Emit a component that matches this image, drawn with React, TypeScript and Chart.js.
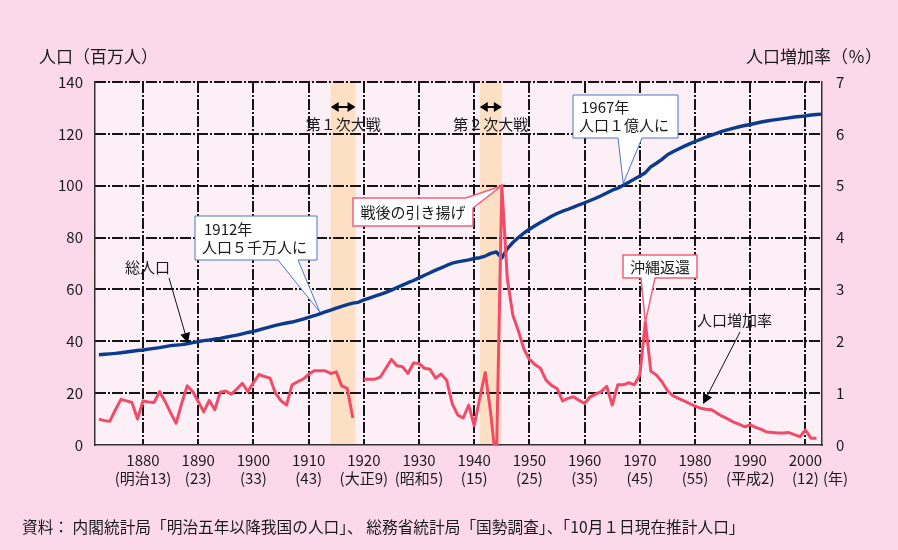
import React, { useEffect, useRef } from 'react';
import { Chart, registerables } from 'chart.js';

Chart.register(...registerables);

const FONT = '"Noto Sans CJK JP", "Noto Sans", sans-serif';

// 総人口（百万人）, 1872..2003
const POP_START_YEAR = 1872;
const POPULATION = [
  34.81, 34.99, 35.15, 35.32, 35.56, 35.87, 36.17, 36.46,
  36.65, 36.97, 37.26, 37.57, 37.96, 38.31, 38.54, 38.70, 39.03, 39.47,
  39.90, 40.25, 40.51, 40.86, 41.14, 41.56, 41.99, 42.40, 42.89, 43.40,
  43.85, 44.36, 44.96, 45.55, 46.14, 46.62, 47.04, 47.42, 47.97, 48.55,
  49.18, 49.85, 50.58, 51.31, 52.04, 52.75, 53.50, 54.13, 54.74, 55.03,
  55.96, 56.67, 57.39, 58.12, 58.88, 59.74, 60.74, 61.66, 62.60, 63.46,
  64.45, 65.46, 66.43, 67.43, 68.31, 69.25, 70.11, 70.63, 71.01, 71.38,
  71.93, 72.22, 72.88, 73.90, 74.43, 72.15, 75.75, 78.10, 80.00, 81.77,
  83.20, 84.54, 85.81, 86.98, 88.24, 89.28, 90.17, 90.93, 91.77, 92.64,
  93.42, 94.29, 95.18, 96.16, 97.18, 98.28, 99.05, 100.20, 101.33, 102.54,
  103.72, 105.01, 107.33, 108.66, 110.16, 111.94, 113.09, 114.15, 115.17, 116.13,
  117.06, 117.90, 118.73, 119.54, 120.31, 121.05, 121.66, 122.24, 122.75, 123.21,
  123.61, 124.10, 124.57, 124.94, 125.27, 125.57, 125.86, 126.17, 126.49, 126.69,
  126.93, 127.29, 127.44, 127.62,
];

// 人口増加率（%）, 1872..2002 (null = no data)
const RATE_START_YEAR = 1872;
const GROWTH_RATE: (number | null)[] = [
  0.50, 0.47, 0.46, 0.68, 0.88, 0.85, 0.82, 0.50,
  0.85, 0.83, 0.82, 1.03, 0.84, 0.62, 0.42, 0.80, 1.14, 1.03,
  0.84, 0.64, 0.86, 0.68, 1.02, 1.04, 0.98, 1.08, 1.19, 1.03,
  1.20, 1.36, 1.32, 1.29, 1.00, 0.85, 0.77, 1.16, 1.22, 1.27,
  1.36, 1.43, 1.43, 1.43, 1.38, 1.41, 1.14, 1.09, 0.52, null,
  1.27, 1.27, 1.27, 1.31, 1.48, 1.65, 1.53, 1.51, 1.38, 1.58,
  1.57, 1.48, 1.46, 1.29, 1.37, 1.25, 0.80, 0.58, 0.52, 0.77,
  0.37, 0.90, 1.40, 0.60, -0.40, 5.00, 3.20, 2.50, 2.20, 1.85,
  1.65, 1.55, 1.48, 1.25, 1.15, 1.09, 0.85, 0.90, 0.93, 0.86,
  0.80, 0.93, 0.98, 1.03, 1.13, 0.77, 1.16, 1.16, 1.20, 1.16,
  1.35, 2.37, 1.42, 1.35, 1.22, 1.05, 0.95, 0.90, 0.85, 0.80,
  0.75, 0.71, 0.69, 0.68, 0.61, 0.55, 0.50, 0.44, 0.40, 0.35,
  0.39, 0.34, 0.30, 0.25, 0.24, 0.23, 0.23, 0.24, 0.20, 0.16,
  0.29, 0.13, 0.13,
];

const DECADE_TICKS = [1880, 1890, 1900, 1910, 1920, 1930, 1940, 1950, 1960, 1970, 1980, 1990, 2000];
const ERA_LABELS = ['(明治13)', '(23)', '(33)', '(43)', '(大正9)', '(昭和5)', '(15)', '(25)', '(35)', '(45)', '(55)', '(平成2)', '(12)'];
const POP_TICKS = [20, 40, 60, 80, 100, 120, 140];

const WAR_FROM = [1914, 1941];
const WAR_TO = [1918.5, 1945];
const WAR_LABELS = ['第１次大戦', '第２次大戦'];

const OUTER_BG = '#fcd9ea';
const PLOT_BG = '#fdeff6';
const BAND_COLOR = '#fde0c4';
const BLUE = '#0b3b8e';
const RED = '#f04b68';
const TEXT = '#1a1a1a';
const GRID = '#151515';
const DASH = [11, 2, 2, 2];

function arrowHead(ctx: CanvasRenderingContext2D, fx: number, fy: number, tx: number, ty: number, len: number, half: number) {
  const a = Math.atan2(ty - fy, tx - fx);
  const bx = tx - len * Math.cos(a);
  const by = ty - len * Math.sin(a);
  ctx.beginPath();
  ctx.moveTo(tx, ty);
  ctx.lineTo(bx + half * Math.sin(a), by - half * Math.cos(a));
  ctx.lineTo(bx - half * Math.sin(a), by + half * Math.cos(a));
  ctx.closePath();
  ctx.fill();
}

function polygon(ctx: CanvasRenderingContext2D, pts: number[][], stroke: string, width: number) {
  ctx.beginPath();
  pts.forEach((p, i) => (i === 0 ? ctx.moveTo(p[0], p[1]) : ctx.lineTo(p[0], p[1])));
  ctx.closePath();
  ctx.fillStyle = '#ffffff';
  ctx.fill();
  ctx.lineWidth = width;
  ctx.strokeStyle = stroke;
  ctx.lineJoin = 'miter';
  ctx.stroke();
}

// dash-dot line (2px thick) drawn from small rectangles
function dashLine(ctx: CanvasRenderingContext2D, x: number, y: number, length: number, vertical: boolean) {
  let pos = 0;
  let i = 0;
  while (pos < length) {
    const seg = DASH[i % DASH.length];
    if (i % 2 === 0) {
      const len = Math.min(seg, length - pos);
      if (vertical) ctx.fillRect(x - 1, y + pos, 2, len);
      else ctx.fillRect(x + pos, y - 1, len, 2);
    }
    pos += seg;
    i++;
  }
}

function drawGrid(chart: any) {
  const { ctx, chartArea: a, scales } = chart;
  ctx.save();
  ctx.fillStyle = GRID;
  const top = Math.round(a.top);
  const bottom = Math.round(a.bottom);
  const left = Math.round(a.left);
  const right = Math.round(a.right);
  DECADE_TICKS.forEach((v) => {
    const x = Math.round(scales.x.getPixelForValue(v));
    dashLine(ctx, x, top, bottom - top, true);
  });
  POP_TICKS.forEach((v) => {
    const y = Math.round(scales.y.getPixelForValue(v));
    dashLine(ctx, left, y, right - left, false);
  });
  ctx.restore();
}

const decor = {
  id: 'decor',
  beforeDraw(chart: any) {
    const { ctx, chartArea: a, scales } = chart;
    ctx.save();
    ctx.fillStyle = OUTER_BG;
    ctx.fillRect(0, 0, chart.width, chart.height);
    ctx.fillStyle = PLOT_BG;
    ctx.fillRect(a.left, a.top, a.right - a.left, a.bottom - a.top);
    ctx.fillStyle = BAND_COLOR;
    WAR_FROM.forEach((f, i) => {
      const x1 = scales.x.getPixelForValue(f);
      const x2 = scales.x.getPixelForValue(WAR_TO[i]);
      ctx.fillRect(x1, a.top, x2 - x1, a.bottom - a.top);
    });
    ctx.restore();
    drawGrid(chart);
  },
  afterDraw(chart: any) {
    const { ctx, scales } = chart;
    const xs = scales.x, ys = scales.y, ys2 = scales.y2;
    const popAt = (yr: number) => [xs.getPixelForValue(yr), ys.getPixelForValue(POPULATION[yr - POP_START_YEAR])];
    const rateAt = (yr: number) => [xs.getPixelForValue(yr), ys2.getPixelForValue(GROWTH_RATE[yr - RATE_START_YEAR] as number)];
    ctx.save();
    ctx.textBaseline = 'middle';
    ctx.fillStyle = TEXT;
    ctx.strokeStyle = TEXT;

    // war period markers
    WAR_FROM.forEach((f, i) => {
      const x1 = xs.getPixelForValue(f);
      const x2 = xs.getPixelForValue(WAR_TO[i]);
      const y = 107;
      ctx.fillStyle = '#000';
      ctx.strokeStyle = '#000';
      ctx.lineWidth = 2;
      ctx.beginPath();
      ctx.moveTo(x1 + 4, y);
      ctx.lineTo(x2 - 4, y);
      ctx.stroke();
      arrowHead(ctx, x2, y, x1, y, 8, 5);
      arrowHead(ctx, x1, y, x2, y, 8, 5);
      ctx.fillStyle = TEXT;
      ctx.font = `15px ${FONT}`;
      ctx.textAlign = 'center';
      ctx.fillText(WAR_LABELS[i], (x1 + x2) / 2, 124);
    });

    // 1912 callout
    {
      const [tx, ty] = popAt(1912);
      polygon(ctx, [[195, 216], [317, 216], [317, 260], [298, 260], [tx, ty - 2], [278, 260], [195, 260]], '#4a78c4', 1);
      ctx.fillStyle = TEXT;
      ctx.font = `15px ${FONT}`;
      ctx.textAlign = 'left';
      ctx.fillText('1912年', 204, 229);
      ctx.fillText('人口５千万人に', 202, 247);
    }
    // 1967 callout
    {
      const [tx, ty] = popAt(1967);
      polygon(ctx, [[573, 95], [678, 95], [678, 138], [642, 138], [tx, ty - 2], [618, 138], [573, 138]], '#4a78c4', 1);
      ctx.fillStyle = TEXT;
      ctx.font = `15px ${FONT}`;
      ctx.textAlign = 'left';
      ctx.fillText('1967年', 581, 107);
      ctx.fillText('人口１億人に', 579, 125);
    }
    // 戦後の引き揚げ
    {
      const [tx, ty] = rateAt(1945);
      polygon(ctx, [[353, 198], [466, 198], [tx, ty], [473, 208], [473, 226], [353, 226]], '#f2607e', 1.5);
      ctx.fillStyle = TEXT;
      ctx.font = `15px ${FONT}`;
      ctx.textAlign = 'center';
      ctx.fillText('戦後の引き揚げ', 413, 212);
    }
    // 沖縄返還
    {
      const [tx, ty] = rateAt(1971);
      polygon(ctx, [[623, 255], [697, 255], [697, 278], [655, 278], [tx, ty], [641, 278], [623, 278]], '#f2607e', 1.5);
      ctx.fillStyle = TEXT;
      ctx.font = `15px ${FONT}`;
      ctx.textAlign = 'center';
      ctx.fillText('沖縄返還', 660, 267);
    }

    // series labels with arrows
    ctx.fillStyle = TEXT;
    ctx.strokeStyle = '#111';
    ctx.font = `15px ${FONT}`;
    ctx.textAlign = 'left';
    ctx.fillText('総人口', 125, 267);
    ctx.lineWidth = 1;
    ctx.beginPath();
    ctx.moveTo(169, 278);
    ctx.lineTo(187, 340);
    ctx.stroke();
    ctx.fillStyle = '#000';
    arrowHead(ctx, 169, 278, 188, 343, 10, 5);

    ctx.fillStyle = TEXT;
    ctx.fillText('人口増加率', 697, 320);
    ctx.beginPath();
    ctx.moveTo(740, 332);
    ctx.lineTo(705, 400);
    ctx.stroke();
    ctx.fillStyle = '#000';
    arrowHead(ctx, 740, 332, 703, 404, 10, 5);

    // axis titles
    ctx.fillStyle = TEXT;
    ctx.font = `17px ${FONT}`;
    ctx.textAlign = 'left';
    ctx.fillText('人口（百万人）', 39, 57);
    ctx.textAlign = 'right';
    ctx.fillText('人口増加率（％）', 882, 57);
    ctx.font = `15px ${FONT}`;
    ctx.textAlign = 'left';
    ctx.fillText('(年)', 823, 478);

    // source
    ctx.font = `15.7px ${FONT}`;
    ctx.fillText('資料： 内閣統計局「明治五年以降我国の人口」、 総務省統計局「国勢調査」、「10月１日現在推計人口」', 22, 527);
    ctx.restore();
  },
};

export default function App() {
  const ref = useRef<HTMLCanvasElement>(null);
  useEffect(() => {
    const canvas = ref.current;
    if (!canvas) return;
    const popData = POPULATION.map((v, i) => ({ x: POP_START_YEAR + i, y: v }));
    const rateData = GROWTH_RATE.map((v, i) => ({ x: RATE_START_YEAR + i, y: v }));
    const tickFont = { family: FONT, size: 15, lineHeight: 1.15 };
    const chart = new Chart(canvas, {
      type: 'line',
      data: {
        datasets: [
          {
            label: '人口増加率',
            data: rateData as any,
            yAxisID: 'y2',
            borderColor: RED,
            borderWidth: 3,
            pointRadius: 0,
            tension: 0,
            spanGaps: false,
            borderJoinStyle: 'round',
            order: 0,
          },
          {
            label: '総人口',
            data: popData,
            yAxisID: 'y',
            borderColor: BLUE,
            borderWidth: 3.4,
            pointRadius: 0,
            tension: 0,
            borderJoinStyle: 'round',
            order: 1,
          },
        ],
      },
      options: {
        responsive: false,
        animation: false,
        devicePixelRatio: 1,
        layout: { padding: { top: 82, left: 0, right: 0, bottom: 0 } },
        plugins: { legend: { display: false }, tooltip: { enabled: false }, title: { display: false } },
        scales: {
          x: {
            type: 'linear',
            min: 1871.3,
            max: 2003,
            afterBuildTicks: (axis: any) => {
              axis.ticks = DECADE_TICKS.map((v) => ({ value: v }));
            },
            afterFit: (s: any) => {
              s.height = 105;
            },
            ticks: {
              autoSkip: false,
              maxRotation: 0,
              padding: 7,
              color: TEXT,
              font: tickFont,
              callback: (value: any, index: number) => [String(value), ERA_LABELS[index]],
            },
            grid: { display: false, drawTicks: false },
            border: { display: true, color: '#333', width: 1.5 },
          },
          y: {
            position: 'left',
            min: 0,
            max: 140,
            afterFit: (s: any) => {
              s.width = 95;
            },
            ticks: { stepSize: 20, padding: 12, color: TEXT, font: tickFont },
            grid: { display: false, drawTicks: false },
            border: { display: true, color: '#333', width: 1.5 },
          },
          y2: {
            position: 'right',
            min: 0,
            max: 7,
            afterFit: (s: any) => {
              s.width = 76;
            },
            ticks: { stepSize: 1, padding: 14, color: TEXT, font: tickFont },
            grid: { display: false, drawTicks: false },
            border: { display: true, color: '#333', width: 1.5 },
          },
        },
      },
      plugins: [decor],
    });
    return () => chart.destroy();
  }, []);
  return (
    <div style={{ position: 'fixed', left: 0, top: 0, width: 898, height: 550 }}>
      <canvas ref={ref} width={898} height={550} style={{ display: 'block' }} />
    </div>
  );
}
